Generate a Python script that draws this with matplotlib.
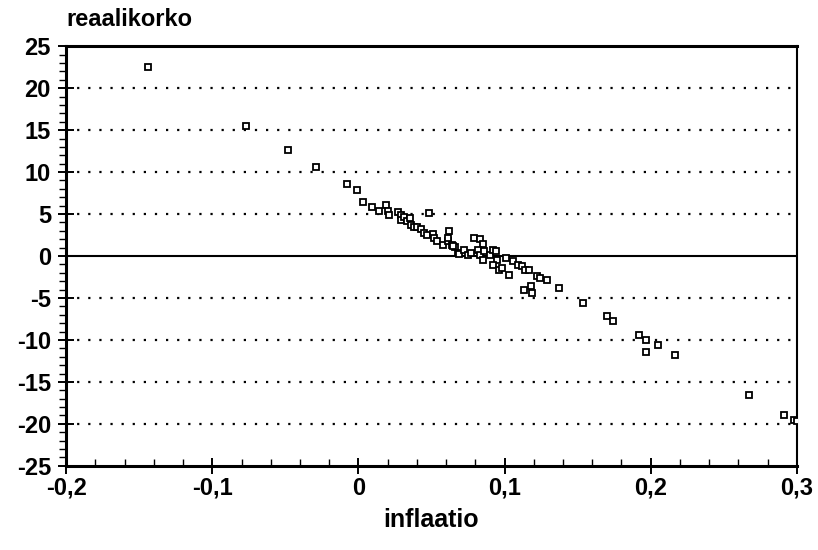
import matplotlib
matplotlib.use("Agg")
import matplotlib.pyplot as plt
from matplotlib.ticker import MultipleLocator

inflaatio = [-0.144, -0.077, -0.048, -0.029, -0.008, -0.001, 0.003, 0.009, 0.014, 0.019,
             0.020, 0.021, 0.027, 0.029, 0.029, 0.031, 0.033, 0.035, 0.036, 0.038,
             0.040, 0.043, 0.045, 0.047, 0.048, 0.051, 0.052, 0.054, 0.058, 0.061,
             0.062, 0.064, 0.066, 0.068, 0.061, 0.065, 0.069, 0.072, 0.075, 0.077,
             0.079, 0.083, 0.085, 0.082, 0.083, 0.085, 0.086, 0.090, 0.092, 0.094,
             0.095, 0.092, 0.096, 0.098, 0.101, 0.103, 0.106, 0.109, 0.112, 0.114,
             0.117, 0.122, 0.124, 0.129, 0.113, 0.118, 0.119, 0.137, 0.154, 0.170,
             0.174, 0.192, 0.197, 0.197, 0.205, 0.217, 0.267, 0.291, 0.298, 0.300]
reaalikorko = [22.5, 15.5, 12.6, 10.6, 8.6, 7.9, 6.4, 5.8, 5.4, 6.1,
               5.4, 4.9, 5.2, 4.9, 4.3, 4.6, 4.2, 4.5, 3.7, 3.5,
               3.5, 3.2, 2.7, 2.5, 5.1, 2.6, 2.1, 1.8, 1.3, 1.8,
               3.0, 1.3, 1.1, 0.4, 2.1, 1.2, 0.3, 0.7, 0.1, 0.4,
               2.1, 2.0, 1.4, 0.7, 0.1, -0.5, 0.6, 0.1, 0.7, 0.6,
               -0.5, -1.1, -1.7, -1.4, -0.2, -2.3, -0.6, -1.1, -1.2, -1.7,
               -1.7, -2.4, -2.6, -2.9, -4.0, -3.6, -4.4, -3.8, -5.6, -7.1,
               -7.7, -9.4, -10.0, -11.4, -10.6, -11.8, -16.5, -18.9, -19.5, -19.6]

x_ticks = [-0.2, -0.1, 0.0, 0.1, 0.2, 0.3]
x_ticklabels = ["-0,2", "-0,1", "0", "0,1", "0,2", "0,3"]
y_ticks = [-25, -20, -15, -10, -5, 0, 5, 10, 15, 20, 25]
y_ticklabels = [str(v) for v in y_ticks]
grid_levels = [-20, -15, -10, -5, 5, 10, 15, 20]

plt.rcParams['font.family'] = ['Liberation Sans', 'DejaVu Sans']

fig = plt.figure(figsize=(8.18, 5.5), dpi=100)
ax = fig.add_axes([0.081, 0.153, 0.893, 0.763])

for g in grid_levels:
    ax.axhline(g, color='black', lw=1.6, ls=(0, (1, 4)), zorder=1)
ax.axhline(0, color='black', lw=1.5, zorder=1)

ax.plot(inflaatio, reaalikorko, ls='none', marker='s', ms=4.8, mfc='white',
        mec='black', mew=1.3, zorder=3)

ax.set_xlim(-0.2, 0.3)
ax.set_ylim(-25, 25)
ax.set_xticks(x_ticks)
ax.set_xticklabels(x_ticklabels, fontsize=17, fontweight='heavy')
ax.set_yticks(y_ticks)
ax.set_yticklabels(y_ticklabels, fontsize=17, fontweight='heavy')
ax.xaxis.set_minor_locator(MultipleLocator(0.02))
ax.yaxis.set_minor_locator(MultipleLocator(1))
ax.tick_params(axis='both', which='major', direction='inout', length=12, width=1.4, pad=5)
ax.tick_params(axis='x', which='major', pad=2)
ax.tick_params(axis='y', which='minor', direction='out', length=5, width=1)
ax.tick_params(axis='x', which='minor', direction='in', length=5, width=1)

for s in ax.spines.values():
    s.set_linewidth(1.5)
ax.spines['left'].set_linewidth(2.2)
ax.spines['bottom'].set_linewidth(2.2)
ax.spines['top'].set_linewidth(2.2)

fig.text(0.081, 0.965, "reaalikorko", fontsize=17, fontweight='heavy', ha='left', va='center')
ax.set_xlabel("inflaatio", fontsize=18, fontweight='heavy', labelpad=6)

fig.savefig("out.png", dpi=100)
